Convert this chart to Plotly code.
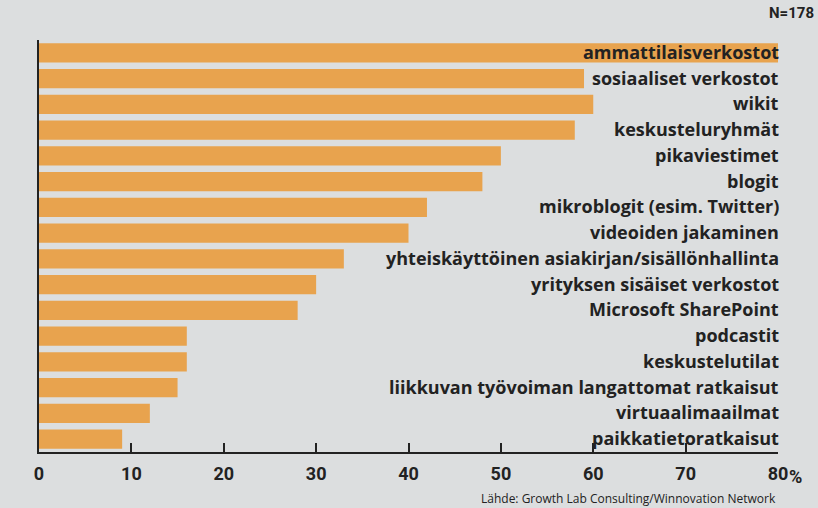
import plotly.graph_objects as go

categories = [
    "ammattilaisverkostot",
    "sosiaaliset verkostot",
    "wikit",
    "keskusteluryhmät",
    "pikaviestimet",
    "blogit",
    "mikroblogit (esim. Twitter)",
    "videoiden jakaminen",
    "yhteiskäyttöinen asiakirjan/sisällönhallinta",
    "yrityksen sisäiset verkostot",
    "Microsoft SharePoint",
    "podcastit",
    "keskustelutilat",
    "liikkuvan työvoiman langattomat ratkaisut",
    "virtuaalimaailmat",
    "paikkatietoratkaisut",
]
values = [80, 59, 60, 58, 50, 48, 42, 40, 33, 30, 28, 16, 16, 15, 12, 9]
tick_vals = [0, 10, 20, 30, 40, 50, 60, 70, 80]
tick_text = ["0", "10", "20", "30", "40", "50", "60", "70", "80"]

BG = "#dcdedf"
BAR = "#e8a34e"
TXT = "#222222"
FONT = "Open Sans"

fig = go.Figure()
fig.add_trace(go.Bar(
    y=categories, x=values, orientation="h",
    marker=dict(color=BAR, line=dict(width=0)),
    width=0.74, hoverinfo="skip",
))

for c in categories:
    fig.add_annotation(x=80, y=c, xref="x", yref="y", text=c, showarrow=False,
                       xanchor="right", yanchor="middle", xshift=3, yshift=1,
                       font=dict(family=FONT, size=18, color=TXT, weight="bold"))

fig.add_annotation(x=80, y=0, xref="x", yref="paper", text="%", showarrow=False,
                   xanchor="left", yanchor="top", xshift=9, yshift=-12,
                   font=dict(family="Roboto", size=18, color=TXT, weight="bold"))
fig.add_annotation(x=1, y=1, xref="paper", yref="paper", text="N=178", showarrow=False,
                   xanchor="right", yanchor="bottom", xshift=38, yshift=16,
                   font=dict(family="Roboto", size=15, color=TXT, weight="bold"))
fig.add_annotation(x=1, y=0, xref="paper", yref="paper",
                   text="Lähde: Growth Lab Consulting/Winnovation Network", showarrow=False,
                   xanchor="right", yanchor="top", yshift=-36,
                   font=dict(family=FONT, size=12, color=TXT))

fig.update_layout(
    width=818, height=508,
    margin=dict(l=39, r=40, t=40, b=56),
    paper_bgcolor=BG, plot_bgcolor=BG,
    showlegend=False, bargap=0.26,
    xaxis=dict(range=[0, 80], tickvals=tick_vals, ticktext=tick_text,
               showgrid=False, zeroline=False, showline=True, linecolor=TXT, linewidth=2,
               ticks="inside", ticklen=9, tickwidth=2, tickcolor=TXT,
               ticklabelstandoff=4,
               tickfont=dict(family="Roboto", size=18, color=TXT, weight="bold")),
    yaxis=dict(autorange=False, range=[15.5, -0.5], showgrid=False, zeroline=False,
               showline=True, linecolor=TXT, linewidth=2, showticklabels=False, ticks=""),
)

fig.write_html("out.html")
